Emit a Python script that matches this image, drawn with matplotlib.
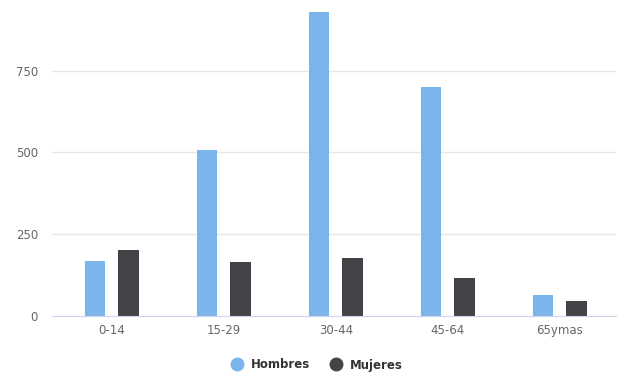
import matplotlib

matplotlib.use("Agg")

import matplotlib.pyplot as plt
import numpy as np
from matplotlib.lines import Line2D

plt.rcParams["font.family"] = ["DejaVu Sans"]

categories = ["0-14", "15-29", "30-44", "45-64", "65ymas"]
hombres = [168, 507, 930, 702, 62]
mujeres = [200, 164, 178, 116, 46]
y_ticks = [0, 250, 500, 750]

BLUE = "#7cb5ec"
DARK = "#434348"

fig = plt.figure(figsize=(6.27, 3.76), dpi=100)
W, H = 627, 376
left, right, base = 52, 615.7, 315.7
ax = fig.add_axes([left / W, 1 - base / H, (right - left) / W, base / H])

x = np.arange(len(categories))
width = 0.183
offset = 0.149
ax.bar(x - offset, hombres, width, color=BLUE, zorder=3)
ax.bar(x + offset, mujeres, width, color=DARK, zorder=3)

ax.set_xlim(-0.535, len(categories) - 0.5)
ax.set_ylim(0, 967)
ax.set_yticks(y_ticks)
ax.set_yticklabels([str(v) for v in y_ticks])
ax.set_xticks(x)
ax.set_xticklabels(categories)
ax.grid(axis="y", color="#e6e6e6", linewidth=1, zorder=0)
ax.tick_params(axis="both", length=0, colors="#666666", labelsize=8.5)
ax.tick_params(axis="y", pad=10)
ax.tick_params(axis="x", pad=6)
for side in ["top", "right", "left"]:
    ax.spines[side].set_visible(False)
ax.spines["bottom"].set_color("#ccd6eb")
ax.spines["bottom"].set_zorder(4)

handles = [
    Line2D([], [], marker="o", linestyle="", markersize=9, color=BLUE),
    Line2D([], [], marker="o", linestyle="", markersize=9, color=DARK),
]
fig.legend(
    handles,
    ["Hombres", "Mujeres"],
    loc="center",
    bbox_to_anchor=(314 / W, 1 - 365 / H),
    ncol=2,
    frameon=False,
    handletextpad=0.2,
    columnspacing=1.15,
    prop={"weight": "bold", "size": 8.5},
    labelcolor="#333333",
)

fig.savefig("out.png", dpi=100, facecolor="white")
